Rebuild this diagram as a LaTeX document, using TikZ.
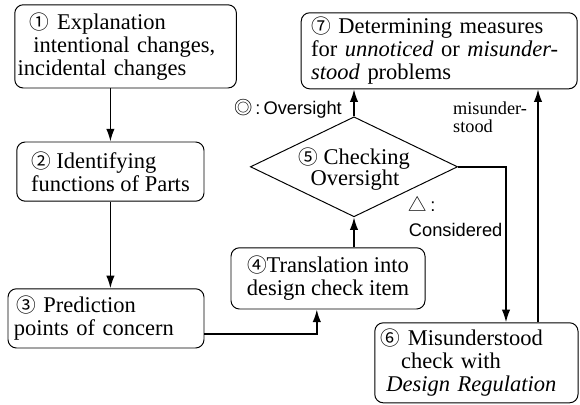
\documentclass[tikz,border=0pt]{standalone}
\usepackage{fontspec}
\setmainfont{Liberation Serif}
\setsansfont{Liberation Sans}
\newfontfamily\circfont{Noto Sans CJK JP}
\usetikzlibrary{positioning,arrows.meta,shapes.geometric}
\newcommand{\stepno}[1]{{\circfont\fontsize{14}{14}\selectfont #1}}

\begin{document}
\begin{tikzpicture}[
    box/.style={draw, rounded corners=6pt, line width=0.7pt, inner ysep=2pt,
        font=\fontsize{16}{16.2}\selectfont},
    decision/.style={draw, diamond, line width=0.7pt, inner sep=0pt,
        minimum width=5.18cm, minimum height=2.5cm},
    flow/.style={-{Latex[length=9pt,width=6pt]}, line width=1.1pt},
    tag/.style={font=\sffamily\fontsize{13}{17.5}\selectfont, inner sep=1pt},
]
\useasboundingbox (0,0) rectangle (14.5,10.1);

\node[box, minimum height=2.08cm, text width=5.4cm, inner xsep=2pt, align=left] (explain) at (3.14,8.94)
    {\hspace*{0.55em}\stepno{①} Explanation\\\hspace*{0.7em}intentional changes,\\incidental changes};
\node[box, minimum width=4.68cm, minimum height=1.48cm, align=left] (identify) at (2.76,5.81)
    {\stepno{②} Identifying\\functions of Parts};
\node[box, minimum height=1.48cm, text width=4.6cm, inner xsep=0.15cm, align=left] (predict) at (2.65,2.14)
    {\hspace*{0.1em}\stepno{③} Prediction\\points of concern};
\node[box, minimum width=4.85cm, minimum height=1.53cm, align=center] (translate) at (8.2,3.14)
    {\stepno{④}Translation into\\design check item};
\node[decision] (oversight) at (8.85,5.93) {};
\node[font=\fontsize{16}{15.5}\selectfont, align=left] (oversighttext) at ([yshift=-0.06cm]oversight.center)
    {\stepno{⑤} Checking\\\hspace*{0.55em}Oversight};
\node[box, minimum height=2.0cm, text width=4.78cm, inner xsep=0.15cm, align=left] (regulation) at (11.91,1.03)
    {\stepno{⑥} Misunderstood\\\hspace*{0.9em}check with\\\hspace*{0.25em}\textit{Design Regulation}};
\node[box, minimum height=1.9cm, text width=6.4cm, inner xsep=0.25cm, align=left] (measures) at (10.98,8.83)
    {\stepno{⑦} Determining measures\\for \textit{unnoticed} or \textit{misunder-}\\\textit{stood} problems};

\draw[flow] (explain.south -| identify.north) -- (identify.north);
\draw[flow] (identify.south) -- (identify.south |- predict.north);
\draw[flow] ([yshift=-0.39cm]predict.east) -| ([xshift=-0.28cm]translate.south);
\draw[flow] (translate.north -| oversight.south) -- (oversight.south);
\draw[flow] (oversight.north) -- (oversight.north |- measures.south)
    node[tag, pos=0.28, left=0.25cm] {{\circfont ◎}\,:\,Oversight};
\draw[flow] (oversight.east) -| ([xshift=0.74cm]regulation.north)
    node[tag, pos=0.66, left=1pt, align=left] {{\circfont △}\,:\\Considered};
\draw[flow] ([xshift=1.54cm]regulation.north) -- ([xshift=1.54cm]regulation.north |- measures.south)
    node[pos=0.88, left=4pt, align=left, font=\fontsize{13}{13}\selectfont] {misunder-\\stood};
\end{tikzpicture}
\end{document}
